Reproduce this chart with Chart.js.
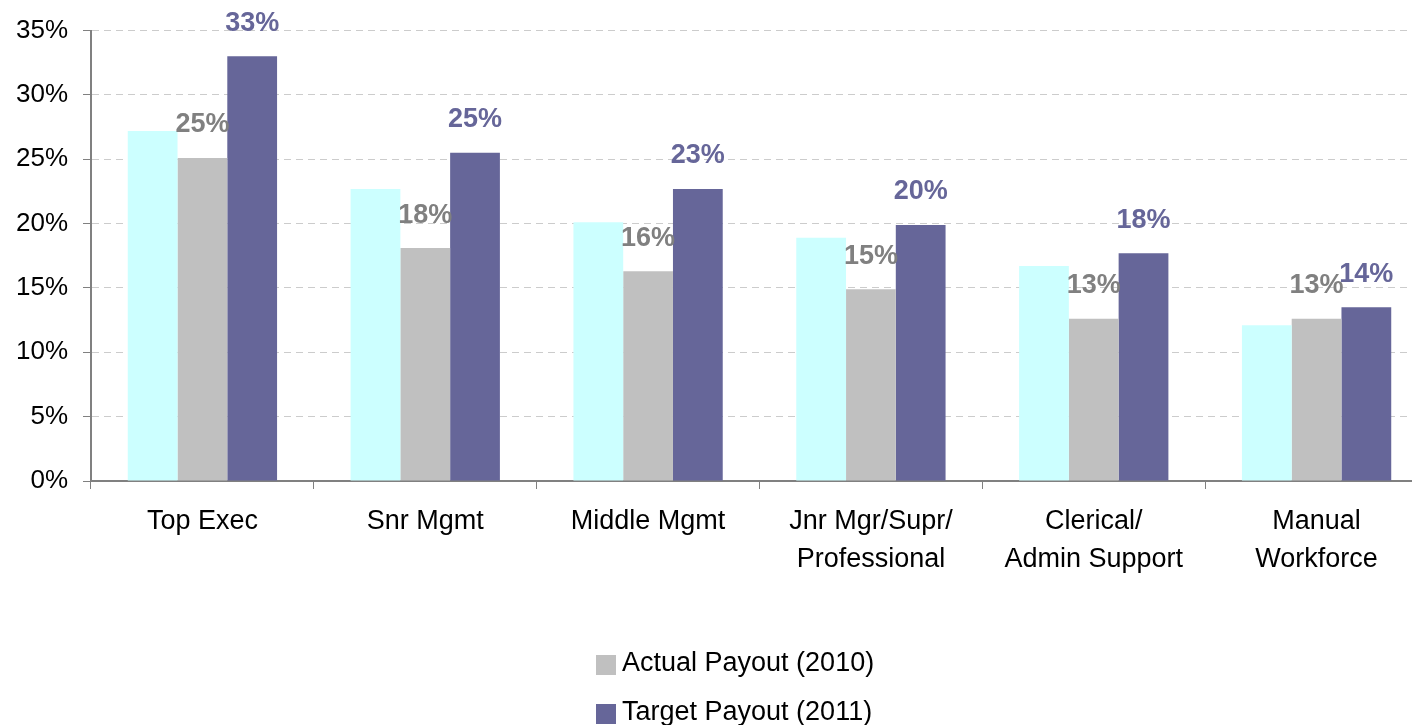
<!DOCTYPE html>
<html>
<head>
<meta charset="utf-8">
<script src="https://cdn.jsdelivr.net/npm/chart.js@4/dist/chart.umd.min.js"></script>
<style>
  html, body { margin: 0; padding: 0; background: #fff; }
  #clip { width: 1412px; height: 725px; overflow: hidden; position: relative; }
  #wrap { width: 1428px; height: 725px; position: relative; }
</style>
</head>
<body>
<div id="clip"><div id="wrap"><canvas id="cchart"></canvas></div></div>
<script>
const categories = [
    "Top Exec",
    "Snr Mgmt",
    "Middle Mgmt",
    ["Jnr Mgr/Supr/", "Professional"],
    ["Clerical/", "Admin Support"],
    ["Manual", "Workforce"]
];
const seriesNames = ["", "Actual Payout (2010)", "Target Payout (2011)"];
const firstValues = [27.2, 22.7, 20.1, 18.9, 16.7, 12.1];
const actualValues = [25.1, 18.1, 16.3, 14.9, 12.6, 12.6];
const targetValues = [33.0, 25.5, 22.7, 19.9, 17.7, 13.5];
const actualLabels = ["25%", "18%", "16%", "15%", "13%", "13%"];
const targetLabels = ["33%", "25%", "23%", "20%", "18%", "14%"];
const yTicks = [0, 5, 10, 15, 20, 25, 30, 35];

const FONT = '"Liberation Sans", Arial, sans-serif';

/*
    Draw value labels above the gray and purple bars
*/
const barLabels = {
    id: 'barLabels',
    afterDatasetsDraw(chart) {
        const ctx = chart.ctx;
        const sets = [
            { index: 1, labels: actualLabels, color: '#808080' },
            { index: 2, labels: targetLabels, color: '#666699' }
        ];
        ctx.save();
        ctx.font = 'bold 27px ' + FONT;
        ctx.textAlign = 'center';
        ctx.textBaseline = 'middle';
        sets.forEach(s => {
            const meta = chart.getDatasetMeta(s.index);
            meta.data.forEach((bar, i) => {
                ctx.fillStyle = s.color;
                ctx.fillText(s.labels[i], bar.x, bar.y - 33);
            });
        });
        ctx.restore();
    }
};

/*
    Vertical legend under the chart
*/
const stackLegend = {
    id: 'stackLegend',
    afterDraw(chart) {
        const ctx = chart.ctx;
        ctx.save();
        ctx.font = '27px ' + FONT;
        ctx.textBaseline = 'middle';
        ctx.textAlign = 'left';
        [1, 2].forEach((d, k) => {
            const y = 664 + k * 49;
            ctx.fillStyle = chart.data.datasets[d].backgroundColor;
            ctx.fillRect(596, y - 9, 20, 20);
            ctx.fillStyle = '#000';
            ctx.fillText(chart.data.datasets[d].label, 622, y);
        });
        ctx.restore();
    }
};

let UICanvasChart = document.getElementById('cchart');
let _chart = new Chart(UICanvasChart.getContext('2d'), {
    type: 'bar',
    data: {
        labels: categories,
        datasets: [
            { label: seriesNames[0], data: firstValues, backgroundColor: '#CCFFFF' },
            { label: seriesNames[1], data: actualValues, backgroundColor: '#C0C0C0' },
            { label: seriesNames[2], data: targetValues, backgroundColor: '#666699' }
        ]
    },
    options: {
        responsive: true,
        maintainAspectRatio: false,
        animation: false,
        datasets: { bar: { categoryPercentage: 0.67, barPercentage: 1.0, borderWidth: 0 } },
        layout: { padding: { top: 30, right: 0, left: 0, bottom: 0 } },
        plugins: {
            legend: { display: false },
            tooltip: { enabled: false }
        },
        scales: {
            x: {
                grid: {
                    offset: true,
                    drawOnChartArea: false,
                    color: '#808080',
                    tickLength: 8,
                    lineWidth: 1
                },
                border: { color: '#808080', width: 2 },
                ticks: {
                    color: '#000',
                    font: { family: FONT, size: 27, lineHeight: 1.4 },
                    padding: 14,
                    maxRotation: 0,
                    autoSkip: false
                },
                afterFit: (s) => { s.height = 244; }
            },
            y: {
                min: 0,
                max: 35,
                afterBuildTicks: (s) => { s.ticks = yTicks.map(v => ({ value: v })); },
                grid: {
                    color: (c) => c.tick && c.tick.value === 0 ? 'rgba(0,0,0,0)' : '#CCCCCC',
                    tickColor: '#808080',
                    tickLength: 8
                },
                border: { color: '#808080', width: 2, dash: [7, 5] },
                ticks: {
                    color: '#000',
                    font: { family: FONT, size: 26 },
                    padding: 15,
                    callback: (v) => v + '%'
                },
                afterFit: (s) => { s.width = 91; }
            }
        }
    },
    plugins: [barLabels, stackLegend]
});
</script>
</body>
</html>
